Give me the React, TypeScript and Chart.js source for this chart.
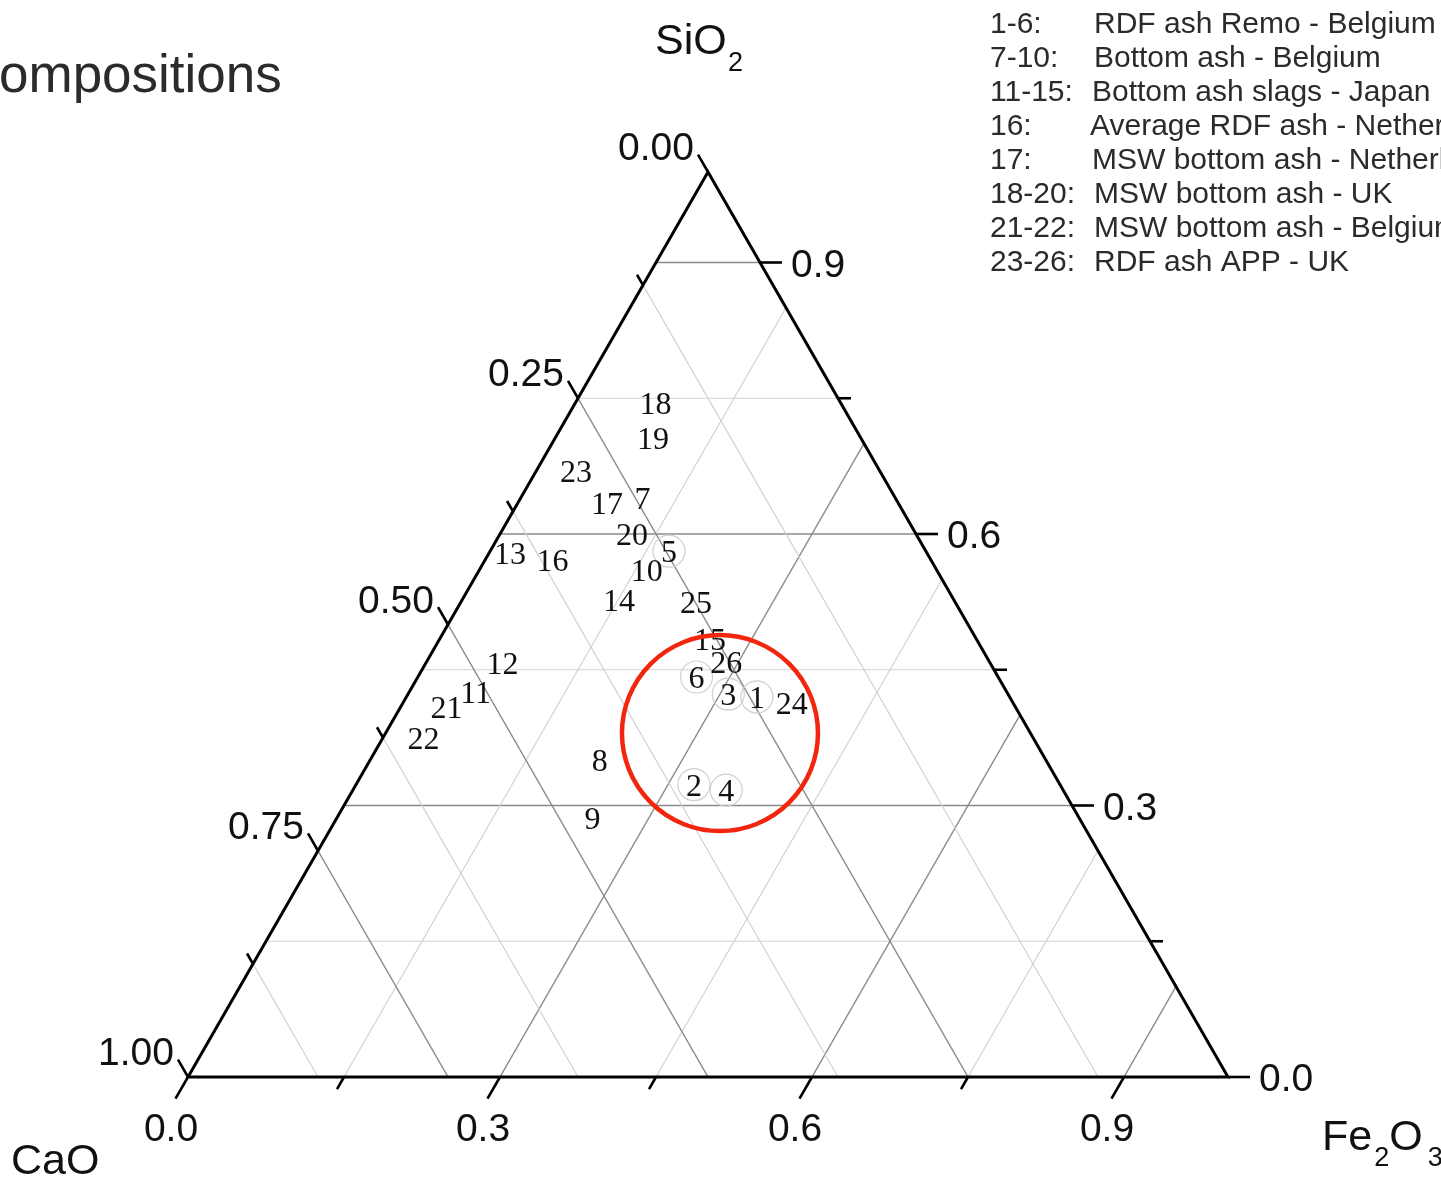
import React, { useEffect, useRef } from "react";
import { Chart, registerables } from "chart.js";

Chart.register(...registerables);

// Sample labels and compositions (mass fractions, CaO + SiO2 + Fe2O3 = 1)
const SAMPLE_IDS = ["1","2","3","4","5","6","7","8","9","10","11","12","13","14","15","16","17","18","19","20","21","22","23","24","25","26"];
const CAO =   [0.243,0.352,0.269,0.324,0.247,0.290,0.243,0.429,0.468,0.279,0.511,0.469,0.401,0.322,0.256,0.364,0.280,0.178,0.200,0.273,0.547,0.586,0.292,0.213,0.249,0.253];
const SIO2 =  [0.420,0.323,0.423,0.317,0.581,0.442,0.640,0.350,0.286,0.560,0.425,0.457,0.579,0.527,0.484,0.571,0.634,0.745,0.706,0.600,0.409,0.375,0.670,0.413,0.525,0.459];
const FE2O3 = [0.337,0.325,0.308,0.359,0.172,0.268,0.117,0.221,0.246,0.161,0.064,0.074,0.020,0.151,0.260,0.065,0.086,0.077,0.094,0.127,0.044,0.039,0.038,0.374,0.226,0.288];
const CIRCLED_IDS = ["1","2","3","4","5","6"];

// Highlight circle centre (composition)
const HIGHLIGHT = { cao: 0.2985, sio2: 0.38, fe2o3: 0.3215 };

// Grid levels
const SIO2_GRID = [0.15, 0.3, 0.45, 0.6, 0.75, 0.9];
const FE2O3_GRID = [0.15, 0.3, 0.45, 0.6, 0.75, 0.9];
const CAO_GRID = [0.125, 0.25, 0.375, 0.5, 0.625, 0.75, 0.875];

// Axis ticks
const BOTTOM_MAJOR = [0, 0.3, 0.6, 0.9];
const BOTTOM_LABELS = ["0.0", "0.3", "0.6", "0.9"];
const BOTTOM_MINOR = [0.15, 0.45, 0.75];
const RIGHT_MAJOR = [0, 0.3, 0.6, 0.9];
const RIGHT_LABELS = ["0.0", "0.3", "0.6", "0.9"];
const RIGHT_MINOR = [0.15, 0.45, 0.75];
const LEFT_MAJOR = [0, 0.25, 0.5, 0.75, 1.0];
const LEFT_LABELS = ["0.00", "0.25", "0.50", "0.75", "1.00"];
const LEFT_MINOR = [0.125, 0.375, 0.625, 0.875];

const LEGEND_RANGES = ["1-6:", "7-10:", "11-15:", "16:", "17:", "18-20:", "21-22:", "23-26:"];
const LEGEND_NAMES = [
  "RDF ash Remo - Belgium",
  "Bottom ash - Belgium",
  "Bottom ash slags - Japan",
  "Average RDF ash - Netherlands",
  "MSW bottom ash - Netherlands",
  "MSW bottom ash - UK",
  "MSW bottom ash - Belgium",
  "RDF ash APP - UK",
];
const LEGEND_NAME_X = [1094, 1094, 1092, 1090, 1092, 1094, 1094, 1094];

const TITLE_TEXT = "ompositions";

const SANS = "'Liberation Sans', Arial, sans-serif";
const SERIF = "'Liberation Serif', 'Times New Roman', serif";

function toXY(si: number, fe: number) {
  return { x: fe + si / 2, y: si };
}

const ternaryPlugin = {
  id: "ternaryPlugin",
  beforeDatasetsDraw(chart: any) {
    const { ctx, scales } = chart;
    const xs = scales.x;
    const ys = scales.y;
    const P = (si: number, fe: number) => {
      const q = toXY(si, fe);
      return [xs.getPixelForValue(q.x), ys.getPixelForValue(q.y)];
    };
    const isMul = (v: number, m: number) => Math.abs(v / m - Math.round(v / m)) < 1e-6;
    const line = (a: number[], b: number[], major: boolean) => {
      ctx.beginPath();
      ctx.moveTo(a[0], a[1]);
      ctx.lineTo(b[0], b[1]);
      ctx.strokeStyle = major ? "#8a8a8a" : "#d2d2d2";
      ctx.lineWidth = major ? 1.5 : 1.2;
      ctx.stroke();
    };
    ctx.save();
    SIO2_GRID.forEach((s) => line(P(s, 0), P(s, 1 - s), isMul(s, 0.3)));
    FE2O3_GRID.forEach((f) => line(P(0, f), P(1 - f, f), isMul(f, 0.3)));
    CAO_GRID.forEach((c) => line(P(0, 1 - c), P(1 - c, 0), isMul(c, 0.25)));

    // triangle
    ctx.beginPath();
    const A = P(0, 0), B = P(0, 1), C = P(1, 0);
    ctx.moveTo(A[0], A[1]);
    ctx.lineTo(B[0], B[1]);
    ctx.lineTo(C[0], C[1]);
    ctx.closePath();
    ctx.strokeStyle = "#000";
    ctx.lineWidth = 3;
    ctx.lineJoin = "miter";
    ctx.stroke();

    // ticks
    const tick = (p: number[], dx: number, dy: number, len: number) => {
      ctx.beginPath();
      ctx.moveTo(p[0], p[1]);
      ctx.lineTo(p[0] + dx * len, p[1] + dy * len);
      ctx.strokeStyle = "#000";
      ctx.lineWidth = 2.6;
      ctx.stroke();
    };
    const c60 = 0.5, s60 = Math.sqrt(3) / 2;
    BOTTOM_MAJOR.forEach((v) => tick(P(0, v), -c60, s60, 25));
    BOTTOM_MINOR.forEach((v) => tick(P(0, v), -c60, s60, 14));
    RIGHT_MAJOR.forEach((v) => tick(P(v, 1 - v), 1, 0, 22));
    RIGHT_MINOR.forEach((v) => tick(P(v, 1 - v), 1, 0, 13));
    LEFT_MAJOR.forEach((v) => tick(P(1 - v, 0), -c60, -s60, 20));
    LEFT_MINOR.forEach((v) => tick(P(1 - v, 0), -c60, -s60, 12));

    // tick labels
    ctx.fillStyle = "#111";
    ctx.font = `39px ${SANS}`;
    ctx.textBaseline = "alphabetic";
    ctx.textAlign = "center";
    BOTTOM_MAJOR.forEach((v, i) => {
      const p = P(0, v);
      ctx.fillText(BOTTOM_LABELS[i], p[0] - 17, p[1] + 64);
    });
    ctx.textAlign = "left";
    RIGHT_MAJOR.forEach((v, i) => {
      const p = P(v, 1 - v);
      ctx.fillText(RIGHT_LABELS[i], p[0] + 31, p[1] + 14);
    });
    ctx.textAlign = "right";
    LEFT_MAJOR.forEach((v, i) => {
      const p = P(1 - v, 0);
      ctx.fillText(LEFT_LABELS[i], p[0] - 14, p[1] - 12);
    });
    ctx.restore();
  },
  afterDatasetsDraw(chart: any) {
    const { ctx, scales } = chart;
    const xs = scales.x;
    const ys = scales.y;
    ctx.save();
    // sample number labels
    ctx.fillStyle = "#111";
    ctx.font = `32px ${SERIF}`;
    ctx.textAlign = "center";
    ctx.textBaseline = "alphabetic";
    SAMPLE_IDS.forEach((id, i) => {
      const q = toXY(SIO2[i], FE2O3[i]);
      const px = xs.getPixelForValue(q.x);
      const py = ys.getPixelForValue(q.y);
      ctx.fillText(id, px, py + 11);
    });

    // red highlight circle
    const h = toXY(HIGHLIGHT.sio2, HIGHLIGHT.fe2o3);
    ctx.beginPath();
    ctx.arc(xs.getPixelForValue(h.x), ys.getPixelForValue(h.y), 98, 0, Math.PI * 2);
    ctx.strokeStyle = "#f2260e";
    ctx.lineWidth = 4.5;
    ctx.stroke();

    // vertex labels
    ctx.fillStyle = "#111";
    ctx.textAlign = "left";
    ctx.font = `43px ${SANS}`;
    ctx.fillText("SiO", 655, 54);
    ctx.font = `27px ${SANS}`;
    ctx.fillText("2", 728, 71);
    ctx.font = `43px ${SANS}`;
    ctx.fillText("CaO", 11, 1174);
    ctx.fillText("Fe", 1322, 1150);
    const w = ctx.measureText("Fe").width;
    ctx.font = `27px ${SANS}`;
    ctx.fillText("2", 1322 + w + 2, 1166);
    const w2 = ctx.measureText("2").width;
    ctx.font = `43px ${SANS}`;
    const ox = 1322 + w + 2 + w2;
    ctx.fillText("O", ox, 1150);
    const w3 = ctx.measureText("O").width;
    ctx.font = `27px ${SANS}`;
    ctx.fillText("3", ox + w3 + 5, 1166);

    // title fragment
    ctx.fillStyle = "#2b2b2b";
    ctx.font = `53px ${SANS}`;
    ctx.fillText(TITLE_TEXT, -1, 92);

    // legend text
    ctx.font = `30px ${SANS}`;
    ctx.fillStyle = "#2b2b2b";
    LEGEND_RANGES.forEach((r, i) => {
      const by = 33 + i * 34;
      ctx.fillText(r, 990, by);
      ctx.fillText(LEGEND_NAMES[i], LEGEND_NAME_X[i], by);
    });
    ctx.restore();
  },
};

export default function App() {
  const canvasRef = useRef<HTMLCanvasElement | null>(null);

  useEffect(() => {
    const canvas = canvasRef.current;
    if (!canvas) return;
    const all = SAMPLE_IDS.map((id, i) => ({ id, ...toXY(SIO2[i], FE2O3[i]) }));
    const circled = all.filter((d) => CIRCLED_IDS.includes(d.id));
    const plain = all.filter((d) => !CIRCLED_IDS.includes(d.id));
    const chart = new Chart(canvas, {
      type: "scatter",
      data: {
        datasets: [
          {
            label: "circled",
            data: circled.map((d) => ({ x: d.x, y: d.y })),
            pointRadius: 16,
            pointBorderColor: "#cfcfcf",
            pointBackgroundColor: "rgba(255,255,255,0)",
            pointBorderWidth: 1.2,
          },
          {
            label: "samples",
            data: plain.map((d) => ({ x: d.x, y: d.y })),
            pointRadius: 0,
          },
        ],
      },
      options: {
        responsive: false,
        animation: false,
        layout: { padding: { left: 188, right: 213, top: 172, bottom: 105 } },
        scales: {
          x: { type: "linear", min: 0, max: 1, display: false },
          y: { type: "linear", min: 0, max: 1, display: false },
        },
        plugins: {
          legend: { display: false },
          tooltip: { enabled: false },
        },
      },
      plugins: [ternaryPlugin],
    });
    return () => chart.destroy();
  }, []);

  return (
    <div style={{ position: "absolute", left: 0, top: 0, width: 1441, height: 1182, background: "#fff" }}>
      <canvas ref={canvasRef} width={1441} height={1182} style={{ display: "block" }} />
    </div>
  );
}
